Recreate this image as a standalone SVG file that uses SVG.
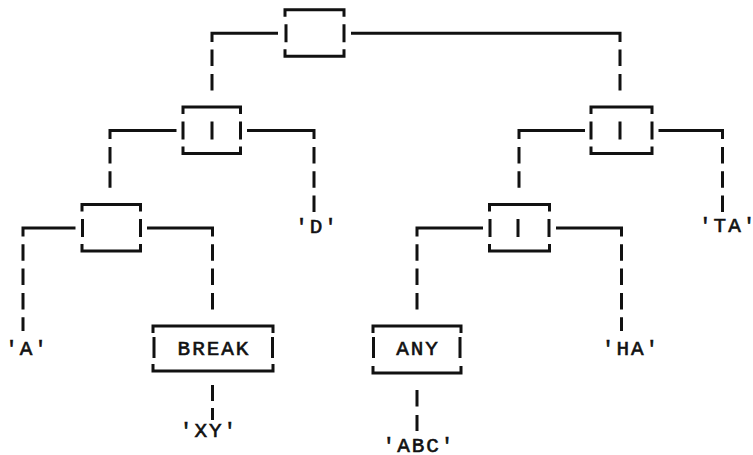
<svg xmlns="http://www.w3.org/2000/svg" width="753" height="455" viewBox="0 0 753 455">
<style>
.ln{fill:none;stroke:#111;stroke-width:3;stroke-linejoin:miter;stroke-linecap:butt}
.t{font-family:"Liberation Mono","DejaVu Sans Mono",monospace;font-size:21px;letter-spacing:1.97px;fill:#111;stroke:#111;stroke-width:0.6px;text-anchor:middle}
</style>
<rect width="753" height="455" fill="#fff"/>
<g id="connectors" class="ln">
<path d="M278,33.3 H212 V42 M212,49.6 V66.1 M212,74 V90.5"/>
<path d="M351,33.3 H620 V42 M620,49.6 V66.1 M620,74 V90.5"/>
<path d="M176.5,130.6 H110 V139 M110,147 V163.5 M110,171.3 V187.8"/>
<path d="M247,130.6 H314 V139 M314,147 V163.5 M314,171.3 V187.8 M314,195.6 V212.1"/>
<path d="M585,130.6 H519 V139 M519,147 V163.5 M519,171.3 V187.8"/>
<path d="M658.5,130.6 H722.5 V139 M722.5,147 V163.5 M722.5,171.3 V187.8 M722.5,195.6 V212.1"/>
<path d="M75.5,228 H23 V236.5 M23,244.3 V260.8 M23,268.6 V285.1 M23,293 V309.5 M23,317.3 V331"/>
<path d="M147,228 H212.5 V236.5 M212.5,244.3 V260.8 M212.5,268.6 V285.1 M212.5,293 V309.5"/>
<path d="M483,228 H417 V236.5 M417,244.3 V260.8 M417,268.6 V285.1 M417,293 V309.5"/>
<path d="M556,228 H621.5 V236.5 M621.5,244.3 V260.8 M621.5,268.6 V285.1 M621.5,293 V309.5 M621.5,317.3 V331"/>
<path d="M212.5,385 V401 M212.5,408 V420"/>
<path d="M417,390 V406.5 M417,415 V431"/>
</g>
<g id="n-root" class="ln">
<path d="M285,16.8 V9.8 H344 V16.8 M285,49.3 V56.3 H344 V49.3 M286,24.3 V42.3 M344,24.3 V42.3"/>
</g>
<g id="n-l1l" class="ln">
<path d="M183,114.1 V107.1 H240.5 V114.1 M183,146.6 V153.6 H240.5 V146.6 M183,121.6 V139.6 M212,121.6 V139.6 M240.5,121.6 V139.6"/>
</g>
<g id="n-l1r" class="ln">
<path d="M591,114.1 V107.1 H652 V114.1 M591,146.6 V153.6 H652 V146.6 M591,121.6 V139.6 M620,121.6 V139.6 M652,121.6 V139.6"/>
</g>
<g id="n-l2l" class="ln">
<path d="M82,211.5 V204.5 H140.5 V211.5 M82,244 V251 H140.5 V244 M82.5,219 V237 M140.5,219 V237"/>
</g>
<g id="n-l2r" class="ln">
<path d="M489.5,211.5 V204.5 H549.5 V211.5 M489.5,244 V251 H549.5 V244 M490,219 V237 M518,219 V237 M549,219 V237"/>
</g>
<g id="n-break">
<path class="ln" d="M153,333.1 V326.1 H273 V333.1 M153,364 V371 H273 V364 M154,337 V358 M272.5,337 V358"/>
<text class="t" x="214" y="355">BREAK</text>
</g>
<g id="n-any">
<path class="ln" d="M373,333.1 V326.1 H461 V333.1 M373,366 V373 H461 V366 M373.5,337 V358 M460,337 V358"/>
<text class="t" x="418" y="355">ANY</text>
</g>
<g id="n-a"><text class="t" x="27" y="355">'A'</text></g>
<g id="n-d"><text class="t" x="317" y="233">'D'</text></g>
<g id="n-ta"><text class="t" x="699" y="232" style="text-anchor:start">'TA'</text></g>
<g id="n-xy"><text class="t" x="209" y="437">'XY'</text></g>
<g id="n-ha"><text class="t" x="631" y="355">'HA'</text></g>
<g id="n-abc"><text class="t" x="419" y="452">'ABC'</text></g>
</svg>
